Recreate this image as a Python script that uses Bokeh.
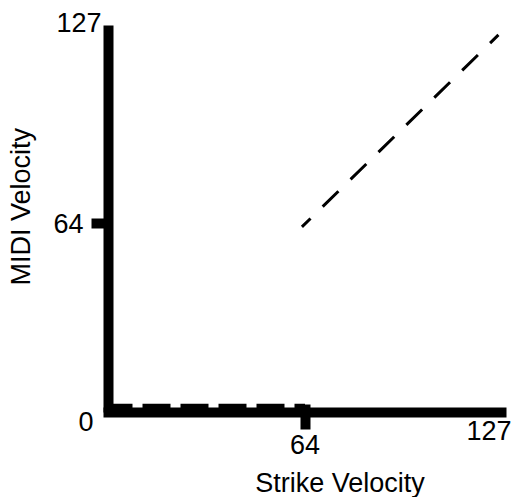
import math
from bokeh.plotting import figure
from bokeh.models import Range1d, FixedTicker, ColumnDataSource
from bokeh.core.properties import value
from bokeh.embed import file_html
from bokeh.resources import INLINE

# ---- data ----
strike_low = [0, 64]        # below-threshold strikes
midi_low = [6, 6]
strike_high = [63, 127]     # above-threshold strikes
midi_high = [63, 124]
axis_ticks = [64]
end_label_x = [0, 0, 127]
end_label_y = [127, 0, 0]
end_label_text = ["127", "0", "127"]
x_title = "Strike Velocity"
y_title = "MIDI Velocity"

FONT = "Liberation Sans"
FS = "27px"

p = figure(width=511, height=497,
           x_range=Range1d(0, 128), y_range=Range1d(4, 127),
           output_backend="svg", toolbar_location=None,
           min_border_left=108, min_border_right=10,
           min_border_top=25, min_border_bottom=85)
p.grid.visible = False
p.outline_line_color = None
p.background_fill_color = "white"
p.border_fill_color = "white"

p.line(strike_low, midi_low, line_width=5, line_color="black",
       line_dash="28 10", line_dash_offset=4)
p.line(strike_high, midi_high, line_width=3, line_color="black",
       line_dash="22 17", line_dash_offset=10)

for ax in (p.xaxis[0], p.yaxis[0]):
    ax.ticker = FixedTicker(ticks=axis_ticks)
    ax.minor_tick_line_color = None
    ax.axis_line_width = 10
    ax.axis_line_color = "black"
    ax.major_tick_line_width = 10
    ax.major_tick_line_color = "black"
    ax.major_tick_out = 17
    ax.major_label_text_font = FONT
    ax.major_label_text_font_size = FS
    ax.major_label_text_color = "black"

p.xaxis.axis_line_cap = "square"
p.yaxis.axis_line_cap = "butt"
p.xaxis.major_tick_in = 8
p.yaxis.major_tick_in = 0
p.xaxis.major_label_standoff = 5
p.yaxis.major_label_standoff = 8

text_style = dict(text_font=value(FONT), text_font_size=value(FS),
                  text_color="black", text_baseline="middle", level="overlay")

# end-of-axis labels (127 / 0 / 127), drawn above the frame clip
src = ColumnDataSource(dict(x=end_label_x, y=end_label_y, text=end_label_text,
                            xo=[-7, -15, 13], yo=[-3, -4, 5]))
p.text("x", "y", "text", source=src, x_offset="xo", y_offset="yo",
       text_align="right", **text_style)

# axis titles
p.text(x=[axis_ticks[0]], y=[0], text=[x_title], x_offset=35, y_offset=58,
       text_align="center", **text_style)
p.text(x=[0], y=[axis_ticks[0]], text=[y_title], angle=math.pi / 2,
       x_offset=-88, y_offset=-17, text_align="center", **text_style)

open("out.html", "w").write(file_html(p, INLINE))
